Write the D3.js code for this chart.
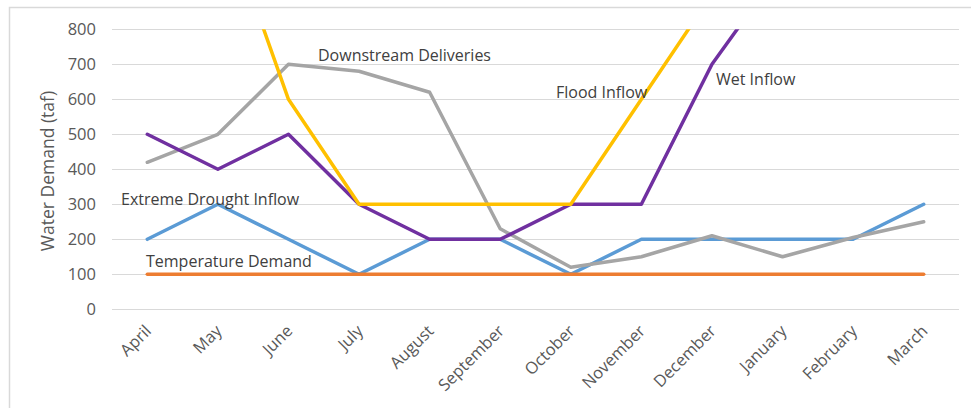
<!DOCTYPE html>
<html><head><meta charset="utf-8">
<script src="https://cdn.jsdelivr.net/npm/d3@7/dist/d3.min.js"></script>
<style>
body{margin:0;background:#fff;}
svg{display:block;font-family:"Open Sans","Noto Sans",sans-serif;}
</style></head>
<body><svg id="c" width="971" height="408"></svg>
<script>
const months = ["April","May","June","July","August","September","October","November","December","January","February","March"];
const yTicks = [0,100,200,300,400,500,600,700,800];
const temperatureDemand = [100,100,100,100,100,100,100,100,100,100,100,100];
const extremeDroughtInflow = [200,300,200,100,200,200,100,200,200,200,200,300];
const downstreamDeliveries = [420,500,700,680,620,230,120,150,210,150,205,250];
const wetInflow = [500,400,500,300,200,200,300,300,700,980,1000,1000];
const floodInflow = [1200,1170,600,300,300,300,300,600,900,1000,1000,1000];

const seriesNames = ["Extreme Drought Inflow","Downstream Deliveries","Wet Inflow","Flood Inflow","Temperature Demand"];
const seriesValues = [extremeDroughtInflow, downstreamDeliveries, wetInflow, floodInflow, temperatureDemand];
const seriesColors = ["#5B9BD5","#A5A5A5","#7030A0","#FFC000","#ED7D31"];

const svg = d3.select("#c");
// outer chart border
svg.append("rect").attr("x",9.5).attr("y",7.5).attr("width",980).attr("height",420)
  .attr("fill","none").attr("stroke","#D9D9D9").attr("stroke-width",1.5);

const x = d3.scaleBand().domain(months).range([112,959]);
const y = d3.scaleLinear().domain([0,800]).range([309.3,29.3]);
const cx = m => x(m) + x.bandwidth()/2;

// gridlines
svg.append("g").selectAll("line").data(yTicks).join("line")
  .attr("x1",112).attr("x2",959)
  .attr("y1",d=>Math.round(y(d))+0.5).attr("y2",d=>Math.round(y(d))+0.5)
  .attr("stroke","#D9D9D9").attr("stroke-width",1);

// y axis labels
const yAxis = d3.axisLeft(y).tickValues(yTicks).tickSize(0).tickPadding(0);
const gy = svg.append("g").attr("transform","translate(96,0)").call(yAxis);
gy.select(".domain").remove();
gy.selectAll("text").attr("fill","#595959").style("font-size","16.5px").style("font-family","'Open Sans',sans-serif");

// x axis labels
const xAxis = d3.axisBottom(x).tickSize(0).tickPadding(0);
const gx = svg.append("g").attr("transform","translate(0,309)").call(xAxis);
gx.select(".domain").remove();
gx.selectAll("text").attr("fill","#595959").style("font-size","16.5px")
  .style("font-family","'Open Sans',sans-serif")
  .attr("text-anchor","end").attr("dy","0")
  .attr("transform","translate(5,23) rotate(-45)").attr("x",0).attr("y",0);

// y title
svg.append("text").attr("transform","translate(54,171) rotate(-90)")
  .attr("text-anchor","middle").attr("fill","#595959").style("font-size","17.5px")
  .text("Water Demand (taf)");

// clip
svg.append("clipPath").attr("id","pc").append("rect").attr("x",100).attr("y",y(800)).attr("width",880).attr("height",300);

const line = d3.line().x((d,i)=>cx(months[i])).y(d=>y(d));
const gl = svg.append("g").attr("clip-path","url(#pc)");
seriesValues.forEach((vals,k)=>{
  gl.append("path").datum(vals).attr("d",line).attr("fill","none")
    .attr("stroke",seriesColors[k]).attr("stroke-width",3.5)
    .attr("stroke-linejoin","round").attr("stroke-linecap","round");
});

// series labels
const labels = [
  {t:"Downstream Deliveries", x:318, y:61},
  {t:"Flood Inflow", x:556, y:98},
  {t:"Wet Inflow", x:716, y:85},
  {t:"Extreme Drought Inflow", x:121, y:205},
  {t:"Temperature Demand", x:146, y:267}
];
svg.append("g").selectAll("text").data(labels).join("text")
  .attr("x",d=>d.x).attr("y",d=>d.y).attr("fill","#404040").style("font-size","16px")
  .text(d=>d.t);
</script></body></html>
